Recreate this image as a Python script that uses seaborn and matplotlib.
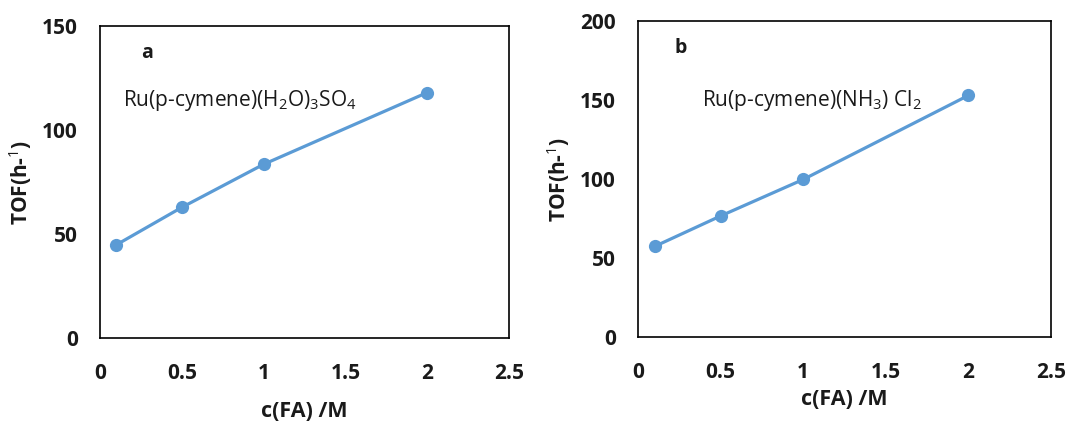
import matplotlib
matplotlib.use("Agg")
import matplotlib.pyplot as plt
import seaborn as sns
import pandas as pd

# --- Data ---
conc = [0.1, 0.5, 1.0, 2.0]
tof_a = [44.8, 62.8, 83.5, 118.0]
tof_b = [57.3, 76.6, 99.7, 152.9]

x_ticks = [0, 0.5, 1, 1.5, 2, 2.5]
x_tick_labels = ["0", "0.5", "1", "1.5", "2", "2.5"]
y_ticks_a = [0, 50, 100, 150]
y_ticks_b = [0, 50, 100, 150, 200]

label_a = r"Ru(p-cymene)(H$_2$O)$_3$SO$_4$"
label_b = r"Ru(p-cymene)(NH$_3$) Cl$_2$"

BLUE = "#5B9BD5"
INK = "#1a1a1a"

sns.set_style("white")
plt.rcParams["font.family"] = ["Open Sans", "DejaVu Sans"]
plt.rcParams["mathtext.fontset"] = "custom"
plt.rcParams["mathtext.rm"] = "Open Sans"
plt.rcParams["mathtext.it"] = "Open Sans"


def draw_panel(ax, y, yticks, letter, note, letter_xy, note_xy, xlabel_pad):
    df = pd.DataFrame({"c": conc, "tof": y})
    sns.lineplot(data=df, x="c", y="tof", ax=ax, color=BLUE, linewidth=2.3,
                 marker="o", markersize=9.5, markeredgewidth=0)
    ax.set_xlim(0, 2.5)
    ax.set_ylim(yticks[0], yticks[-1])
    ax.set_xticks(x_ticks)
    ax.set_xticklabels(x_tick_labels)
    ax.set_yticks(yticks)
    ax.tick_params(axis="both", direction="in", length=6, width=1.1, color="black",
                   labelsize=15, labelcolor=INK)
    ax.tick_params(axis="x", pad=18)
    ax.tick_params(axis="y", pad=16)
    for lab in ax.get_xticklabels() + ax.get_yticklabels():
        lab.set_fontweight("bold")
    for sp in ax.spines.values():
        sp.set_color("black")
        sp.set_linewidth(1.2)
    ax.set_xlabel("c(FA) /M", fontsize=15.5, fontweight="bold", color=INK,
                  labelpad=xlabel_pad)
    ax.set_ylabel(r"TOF(h-$^{1}$)", fontsize=15, fontweight="bold", color=INK,
                  labelpad=6)
    ax.text(letter_xy[0], letter_xy[1], letter, fontsize=14, fontweight="bold",
            ha="center", va="center", color=INK)
    ax.text(note_xy[0], note_xy[1], note, fontsize=15, ha="left", va="center",
            color=INK)


fig = plt.figure(figsize=(10.89, 4.23), dpi=100)
ax1 = fig.add_axes([100 / 1089, 1 - 338 / 423, 409 / 1089, 312 / 423])
ax2 = fig.add_axes([638 / 1089, 1 - 337 / 423, 413 / 1089, 316 / 423])

draw_panel(ax1, tof_a, y_ticks_a, "a", label_a, (0.29, 137), (0.14, 114), 12)
draw_panel(ax2, tof_b, y_ticks_b, "b", label_b, (0.26, 183), (0.39, 150), 4)

fig.savefig("out.png", dpi=100)
